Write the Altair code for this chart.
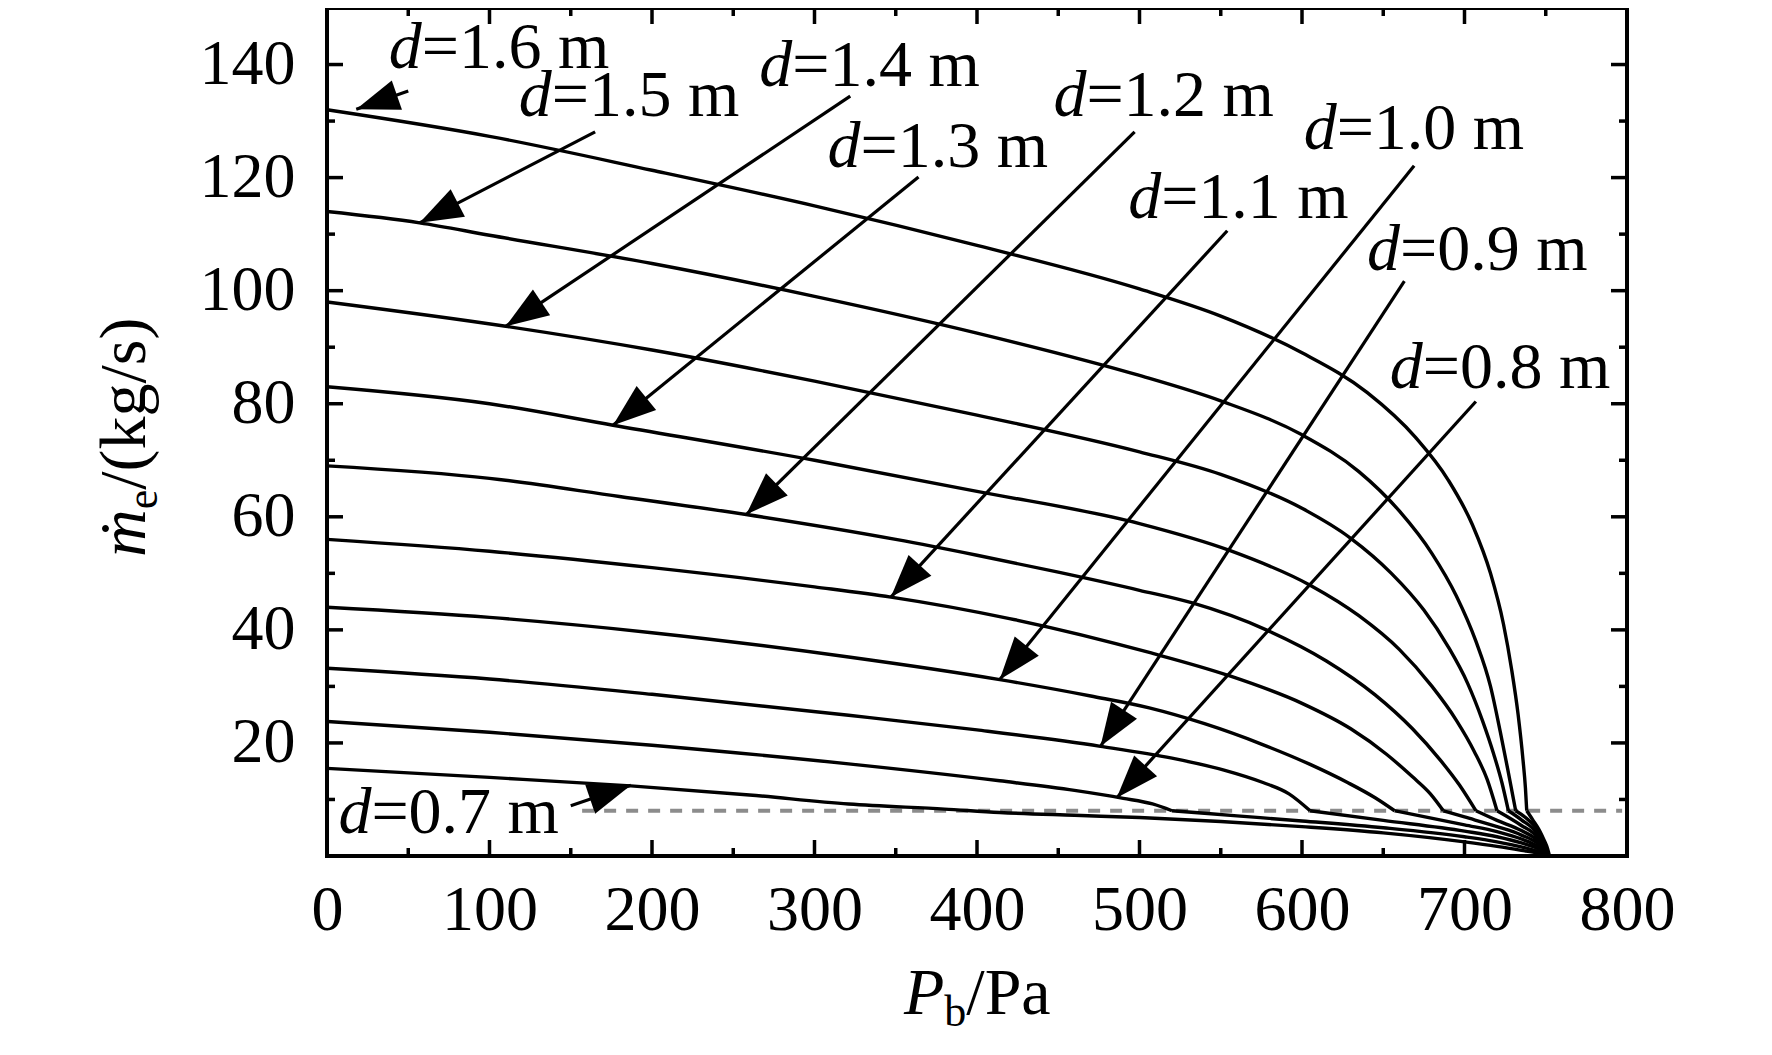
import math

import altair as alt
import pandas as pd

# back pressure P_b (Pa) and mass flow rate (kg/s)
p_07 = [0, 100, 187, 260, 321, 380, 414, 460, 500, 550, 600, 650, 700, 720,
        735, 745, 752]
m_07 = [15.5, 13.9, 12.4, 10.8, 9.2, 8.3, 7.7, 7.2, 6.8, 6.1, 5.2, 4.1, 2.5,
        1.7, 1.0, 0.5, 0]
p_08 = [0, 100, 200, 321, 414, 460, 490, 508, 520, 560, 600, 650, 700, 720,
        735, 745, 752]
m_08 = [23.8, 21.9, 19.6, 16.3, 13.3, 11.6, 10.2, 9.2, 8.0, 7.1, 6.2, 5.0, 3.4,
        2.5, 1.6, 0.8, 0]
p_09 = [0, 100, 200, 321, 400, 476, 520, 552, 576, 592, 605, 650, 700, 720,
        735, 745, 752]
m_09 = [33.2, 31.3, 28.6, 24.9, 22.3, 19.4, 17.3, 15.2, 13.0, 11.0, 8.0, 6.3,
        4.4, 3.4, 2.3, 1.3, 0]
p_10 = [0, 100, 200, 321, 414, 470, 506, 540, 575, 605, 628, 645, 657, 700,
        720, 735, 745, 752]
m_10 = [44, 42.2, 39.5, 35.2, 31.2, 28.3, 26.2, 23.4, 19.8, 16.2, 13.0, 10.3,
        8.0, 5.5, 4.3, 3.0, 1.7, 0]
p_11 = [0, 100, 200, 300, 347, 420, 506, 554, 600, 630, 652, 668, 679, 687,
        700, 720, 735, 745, 752]
m_11 = [56, 53.9, 51.0, 47.6, 45.8, 42.0, 36.0, 32.0, 27.0, 22.5, 18.0, 14.0,
        11.0, 8.0, 6.9, 5.2, 3.7, 2.2, 0]
p_12 = [0, 100, 180, 258, 350, 400, 450, 500, 532, 578, 615, 645, 668, 685,
        697, 707, 720, 735, 745, 752]
m_12 = [69, 66.8, 63.6, 60.4, 56.0, 53.2, 50.2, 47.0, 44.8, 40.0, 34.5, 28.5,
        22.5, 17.0, 12.5, 8.0, 6.3, 4.5, 2.7, 0]
p_13 = [0, 100, 176, 300, 400, 500, 555, 605, 635, 660, 680, 695, 706, 714,
        720, 735, 745, 752]
m_13 = [83, 80.0, 76.2, 70.0, 64.5, 58.8, 54.1, 47.9, 42.5, 36.5, 30.0, 24.0,
        18.5, 13.5, 8.0, 5.4, 3.3, 0]
p_14 = [0, 110, 200, 300, 400, 500, 550, 600, 630, 655, 675, 690, 702, 711,
        718, 723, 727, 735, 745, 752]
m_14 = [98, 93.7, 89.5, 84.0, 78.0, 71.5, 67.5, 61.5, 56.2, 50.0, 43.5, 37.0,
        30.5, 24.0, 18.0, 13.0, 8.0, 6.4, 3.9, 0]
p_15 = [0, 57, 100, 200, 300, 400, 500, 550, 600, 635, 660, 680, 695, 707,
        716, 722, 726.5, 729.5, 731.5, 740, 746, 752]
m_15 = [114, 112, 109.8, 104.8, 99.0, 92.5, 85.0, 80.5, 74.5, 68.0, 61.0, 53.5,
        46.0, 38.0, 30.0, 22.0, 15.5, 11.0, 8.0, 6.2, 4.2, 0]
p_16 = [0, 100, 200, 300, 400, 500, 550, 600, 640, 670, 690, 705, 716, 724,
        729, 733, 736, 737.5, 738.3, 742, 746, 749, 751, 752.3]
m_16 = [132, 127.3, 121.3, 115.0, 108.0, 100.3, 95.5, 89.0, 82.0, 74.0, 66.5,
        58.5, 50.0, 41.0, 33.0, 25.0, 17.0, 12.0, 8.0, 6.4, 4.6, 2.8, 1.4, 0]

# grey reference line
dash_p = [157, 797]
dash_m = [8, 8]

# annotations: text anchor, arrow start and arrow tip (data units)
labels = ["1.6", "1.5", "1.4", "1.3", "1.2", "1.1", "1.0", "0.9", "0.8", "0.7"]
label_p = [38, 118, 266, 308, 447, 493, 601, 640, 654, 7]
label_m = [139.4, 130.9, 136.2, 121.9, 130.9, 112.9, 125.1, 103.6, 82.8, 4.0]
arrow_p0 = [50, 165, 322, 364, 497, 554, 669, 663, 707, 150]
arrow_m0 = [135.3, 128.1, 134.4, 120.1, 128.1, 110.6, 122.1, 101.7, 80.4, 8.9]
arrow_p1 = [18, 57, 110, 176, 258, 347, 414, 476, 486, 187]
arrow_m1 = [132.1, 112.0, 93.7, 76.2, 60.4, 45.8, 31.2, 19.4, 10.3, 12.5]

x_major = [0, 100, 200, 300, 400, 500, 600, 700, 800]
x_minor = [50, 150, 250, 350, 450, 550, 650, 750]
y_major = [20, 40, 60, 80, 100, 120, 140]
y_minor = [10, 30, 50, 70, 90, 110, 130]

W, H = 1300, 848
FONT = "Liberation Serif"
KNEE = 8.0  # curves fold into the bottom bundle at this flow rate

series = {
    "0.7": (p_07, m_07), "0.8": (p_08, m_08), "0.9": (p_09, m_09),
    "1.0": (p_10, m_10), "1.1": (p_11, m_11), "1.2": (p_12, m_12),
    "1.3": (p_13, m_13), "1.4": (p_14, m_14), "1.5": (p_15, m_15),
    "1.6": (p_16, m_16),
}
rows = []
for d, (ps, ms) in series.items():
    # split at the knee so the smooth interpolation keeps the sharp bend
    k = ms.index(KNEE) if KNEE in ms else None
    for i, (p, m) in enumerate(zip(ps, ms)):
        if k is None:
            rows.append({"seg": d, "p": p, "m": m, "i": i})
            continue
        if i <= k:
            rows.append({"seg": d + "a", "p": p, "m": m, "i": i})
        if i >= k:
            rows.append({"seg": d + "b", "p": p, "m": m, "i": i})
curves = pd.DataFrame(rows)


def head_angle(p0, m0, p1, m1):
    # rotation for a triangle that points up by default
    dx = (p1 - p0) * W / 800
    dy = -(m1 - m0) * H / 150
    return math.degrees(math.atan2(dx, -dy)) % 360


ann = pd.DataFrame({
    "lab": labels, "tp": label_p, "tm": label_m,
    "p0": arrow_p0, "m0": arrow_m0, "p1": arrow_p1, "m1": arrow_m1,
})
ann["rest"] = "=" + ann["lab"] + " m"
ann["dd"] = "d"
ann["ang"] = [head_angle(a, b, c, e) for a, b, c, e in
              zip(arrow_p0, arrow_m0, arrow_p1, arrow_m1)]

xs = alt.Scale(domain=[0, 800], nice=False, zero=False)
ys = alt.Scale(domain=[0, 150], nice=False, zero=False)
# same axis spec in every layer so the layers merge into one axis
x_axis = alt.Axis(values=x_major, ticks=False, domain=False, grid=False,
                  title=None, labelPadding=22, labelFlush=False,
                  labelOverlap=False)
y_axis = alt.Axis(values=y_major, ticks=False, domain=False, grid=False,
                  title=None, labelPadding=32, labelOverlap=False)


def X(field):
    return alt.X(field, scale=xs, axis=x_axis)


def Y(field):
    return alt.Y(field, scale=ys, axis=y_axis)


dash = alt.Chart(pd.DataFrame({"p": dash_p, "m": dash_m})).mark_line(
    color="#8c8c8c", strokeWidth=4, strokeDash=[12, 10]
).encode(x=X("p:Q"), y=Y("m:Q"))

lines = alt.Chart(curves).mark_line(
    color="black", strokeWidth=3.4, interpolate="monotone"
).encode(x=X("p:Q"), y=Y("m:Q"), detail="seg:N", order="i:Q")

arrows = alt.Chart(ann).mark_rule(color="black", strokeWidth=3.2).encode(
    x=X("p0:Q"), y=Y("m0:Q"), x2="p1:Q", y2="m1:Q",
)

heads = alt.Chart(ann).mark_point(
    shape="M0,0L-0.72,2L0.72,2Z", filled=True, color="black", opacity=1,
    size=1850, strokeWidth=0
).encode(
    x=X("p1:Q"), y=Y("m1:Q"),
    angle=alt.Angle("ang:Q", scale=None),
)

ANN_FS = 66
d_text = alt.Chart(ann).mark_text(
    font=FONT, fontSize=ANN_FS, fontStyle="italic", align="left",
    baseline="alphabetic", color="black"
).encode(x=X("tp:Q"), y=Y("tm:Q"), text="dd:N")

rest_text = alt.Chart(ann).mark_text(
    font=FONT, fontSize=ANN_FS, align="left", baseline="alphabetic",
    color="black", dx=ANN_FS * 0.5
).encode(x=X("tp:Q"), y=Y("tm:Q"), text="rest:N")

# inward ticks on all four sides
tick_layers = []
for vals, size in [(x_major, 16), (x_minor, 8)]:
    tdf = pd.DataFrame({"v": vals})
    for y0, y1 in [(H, H - size), (0, size)]:
        tick_layers.append(
            alt.Chart(tdf).mark_rule(color="black", strokeWidth=3.5).encode(
                x=X("v:Q"), y=alt.value(y0), y2=alt.value(y1),
            )
        )
for vals, size in [(y_major, 16), (y_minor, 8)]:
    tdf = pd.DataFrame({"v": vals})
    for x0, x1 in [(0, size), (W, W - size)]:
        tick_layers.append(
            alt.Chart(tdf).mark_rule(color="black", strokeWidth=3.5).encode(
                y=Y("v:Q"), x=alt.value(x0), x2=alt.value(x1),
            )
        )

one = pd.DataFrame({"k": [0]})
TFS = 66
SUB = 44


def title_piece(text, x, y, size, italic=False, angle=0, dx=0, dy=0):
    kw = dict(text=text, font=FONT, fontSize=size, align="left",
              baseline="alphabetic", color="black", dx=dx, dy=dy)
    if italic:
        kw["fontStyle"] = "italic"
    if angle:
        kw["angle"] = angle
    return alt.Chart(one).mark_text(**kw).encode(
        x=alt.value(x), y=alt.value(y))


xt_x, xt_y = 577, 1006
x_title = [
    title_piece("P", xt_x, xt_y, TFS, italic=True),
    title_piece("b", xt_x, xt_y, SUB, dx=TFS * 0.611, dy=12),
    title_piece("/Pa", xt_x, xt_y, TFS, dx=TFS * 0.611 + SUB * 0.5),
]
yt_x, yt_y = -182, 549
y_title = [
    title_piece("ṁ", yt_x, yt_y, TFS, italic=True, angle=270),
    title_piece("e", yt_x, yt_y, SUB, angle=270, dx=TFS * 0.722, dy=12),
    title_piece("/(kg/s)", yt_x, yt_y, TFS, angle=270,
                dx=TFS * 0.722 + SUB * 0.444),
]

chart = alt.layer(
    dash, lines, arrows, heads, d_text, rest_text,
    *tick_layers, *x_title, *y_title
).properties(
    width=W, height=H,
    autosize=alt.AutoSizeParams(type="none"),
    padding={"left": 319, "top": 0, "right": 120, "bottom": 180},
    background="white",
).configure_axis(
    labelFont=FONT, labelFontSize=64, labelColor="black"
).configure_view(
    stroke="black", strokeWidth=4
)

chart.save("out.html", embed_options={"renderer": "svg", "actions": False})
